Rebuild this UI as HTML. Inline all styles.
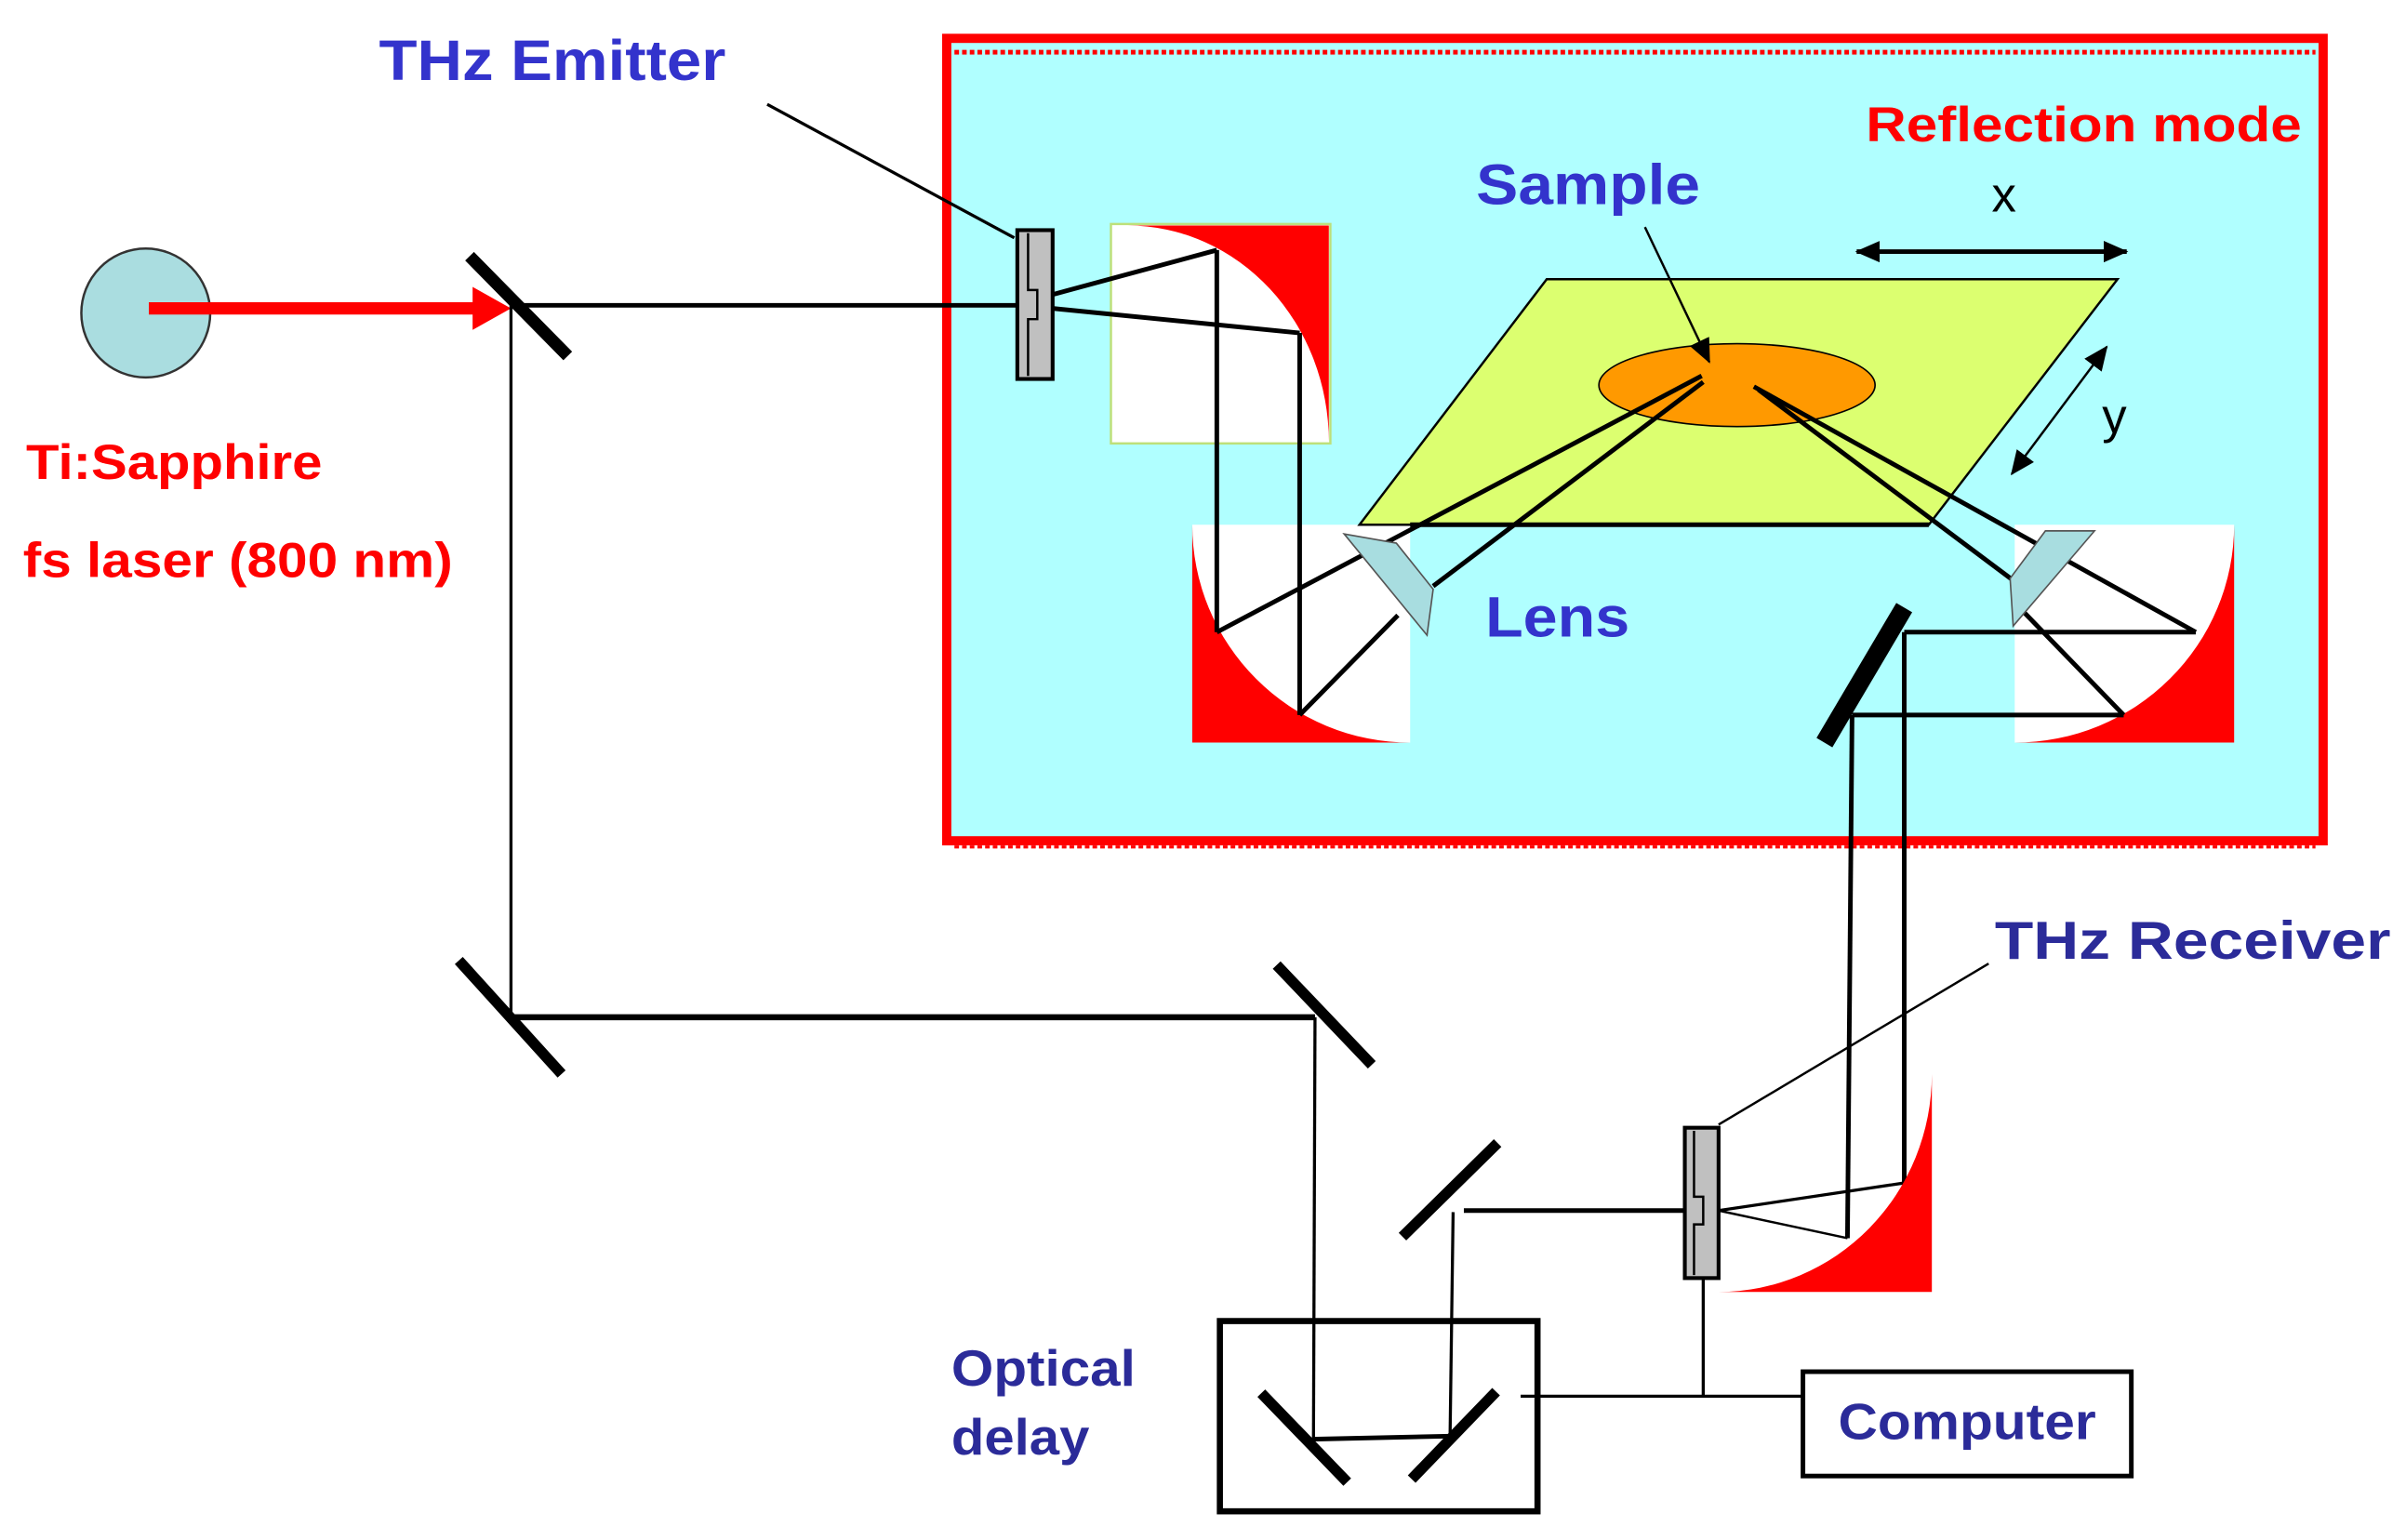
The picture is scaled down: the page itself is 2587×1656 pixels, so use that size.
<!DOCTYPE html>
<html><head><meta charset="utf-8"><style>
html,body{margin:0;padding:0;background:#fff;}
svg{display:block;}
text{font-family:"Liberation Sans",sans-serif;font-weight:bold;}
</style></head><body>
<svg width="2587" height="1656" viewBox="0 0 1568 1003.7" preserveAspectRatio="none" xmlns="http://www.w3.org/2000/svg">
<defs>
<marker id="ah2" markerWidth="16" markerHeight="14" refX="15" refY="7" orient="auto-start-reverse" markerUnits="userSpaceOnUse"><path d="M0,0 L16,7 L0,14 Z" fill="#000"/></marker>
</defs>
<rect x="617" y="25" width="897" height="523" fill="#b0ffff" stroke="#ff0000" stroke-width="6"/>
<line x1="622" y1="34" x2="1509" y2="34" stroke="#ff0000" stroke-width="3" stroke-dasharray="3,2"/>
<line x1="622" y1="552" x2="1509" y2="552" stroke="#ff0000" stroke-width="2" stroke-dasharray="3,2"/>

<rect x="724" y="146" width="143" height="143" fill="#fff" stroke="#bde07a" stroke-width="1.5"/>
<path d="M735,147 L866,147 L866,288 A131,141 0 0 0 735,147 Z" fill="#ff0000"/>
<rect x="777" y="342" width="142" height="142" fill="#fff"/>
<path d="M777,342 A142,142 0 0 0 919,484 L777,484 Z" fill="#ff0000"/>
<rect x="1313" y="342" width="143" height="142" fill="#fff"/>
<path d="M1456,342 L1456,484 L1313,484 A143,142 0 0 0 1456,342 Z" fill="#ff0000"/>

<polygon points="1008,182 1380,182 1257,342 886,342" fill="#dcff70" stroke="#000" stroke-width="1.5"/>
<line x1="919" y1="342" x2="1257" y2="342" stroke="#000" stroke-width="3"/>
<ellipse cx="1132" cy="251" rx="90" ry="27" fill="#ff9900" stroke="#000" stroke-width="1"/>

<g stroke="#000" stroke-width="3" fill="none">
<line x1="686" y1="192" x2="793" y2="163"/>
<line x1="686" y1="201" x2="847" y2="217"/>
<line x1="793" y1="163" x2="793" y2="412"/>
<line x1="847" y1="217" x2="847" y2="466"/>
<line x1="793" y1="412" x2="1109" y2="245"/>
<line x1="847" y1="466" x2="911" y2="401"/>
<line x1="934" y1="382" x2="1110" y2="249"/>
<line x1="1143" y1="252" x2="1431" y2="412"/>
<line x1="1146" y1="254" x2="1313" y2="379"/>
<line x1="1318" y1="398" x2="1384" y2="466"/>
<line x1="1241" y1="412" x2="1431" y2="412"/>
<line x1="1207" y1="466" x2="1384" y2="466"/>
<line x1="1241" y1="412" x2="1241" y2="771"/>
<line x1="1207" y1="466" x2="1204" y2="807"/>
</g>
<polygon points="876,348 910,354 934,384 930,414" fill="#a8dde0" stroke="#555" stroke-width="1"/>
<polygon points="1333,346 1365,346 1312,408 1310,377" fill="#a8dde0" stroke="#555" stroke-width="1"/>
<line x1="1241" y1="396" x2="1189" y2="484" stroke="#000" stroke-width="12"/>

<line x1="1072" y1="148" x2="1114" y2="236" stroke="#000" stroke-width="1.5" marker-end="url(#ah2)"/>
<line x1="1210" y1="164" x2="1386" y2="164" stroke="#000" stroke-width="3" marker-start="url(#ah2)" marker-end="url(#ah2)"/>
<line x1="1373" y1="226" x2="1311" y2="309" stroke="#000" stroke-width="1.5" marker-start="url(#ah2)" marker-end="url(#ah2)"/>

<rect x="663" y="150" width="23" height="97" fill="#c0c0c0" stroke="#000" stroke-width="2.5"/>
<polyline points="670,152 670,189 676,189 676,208 670,208 670,245" fill="none" stroke="#000" stroke-width="1.5"/>
<line x1="500" y1="68" x2="661" y2="155" stroke="#000" stroke-width="2"/>

<ellipse cx="95" cy="204" rx="42" ry="42" fill="#aadde0" stroke="#333" stroke-width="1.5"/>
<line x1="97" y1="201" x2="312" y2="201" stroke="#ff0000" stroke-width="8"/>
<polygon points="308,187 333,201 308,215" fill="#ff0000"/>

<g stroke="#000" fill="none">
<line x1="333" y1="199" x2="663" y2="199" stroke-width="3"/>
<line x1="333" y1="199" x2="333" y2="662" stroke-width="2"/>
<line x1="306" y1="167" x2="370" y2="232" stroke-width="8"/>
<line x1="299" y1="626" x2="366" y2="700" stroke-width="7"/>
<line x1="333" y1="663" x2="857" y2="663" stroke-width="4"/>
<line x1="832" y1="629" x2="894" y2="694" stroke-width="7"/>
<line x1="857" y1="663" x2="856" y2="938" stroke-width="2"/>
<line x1="914" y1="806" x2="976" y2="745" stroke-width="7"/>
<line x1="954" y1="789" x2="1098" y2="789" stroke-width="3"/>
<line x1="947" y1="790" x2="945" y2="937" stroke-width="2"/>
<line x1="855" y1="938" x2="945" y2="936" stroke-width="3"/>
<line x1="822" y1="908" x2="878" y2="966" stroke-width="7"/>
<line x1="975" y1="907" x2="920" y2="964" stroke-width="7"/>
<rect x="795" y="861" width="207" height="124" stroke-width="4"/>
<line x1="1120" y1="789" x2="1241" y2="771" stroke-width="2"/>
<line x1="1120" y1="789" x2="1204" y2="807" stroke-width="1.5"/>
<line x1="1120" y1="733" x2="1296" y2="628" stroke-width="1.5"/>
<line x1="1110" y1="834" x2="1110" y2="910" stroke-width="2"/>
<line x1="991" y1="910" x2="1175" y2="910" stroke-width="2"/>
<rect x="1175" y="894" width="214" height="68" stroke-width="3"/>
</g>
<path d="M1259,700 L1259,842 L1120,842 A139,142 0 0 0 1259,700 Z" fill="#ff0000"/>
<rect x="1098" y="735" width="22" height="98" fill="#c0c0c0" stroke="#000" stroke-width="2.5"/>
<polyline points="1104,737 1104,780 1110,780 1110,798 1104,798 1104,831" fill="none" stroke="#000" stroke-width="1.5"/>

<text x="247" y="52" font-size="37" fill="#3333cc" textLength="226" lengthAdjust="spacingAndGlyphs">THz Emitter</text>
<text x="17" y="312" font-size="32" fill="#ff0000" textLength="193" lengthAdjust="spacingAndGlyphs">Ti:Sapphire</text>
<text x="15" y="376" font-size="32" fill="#ff0000" textLength="280" lengthAdjust="spacingAndGlyphs">fs laser (800 nm)</text>
<text x="1216" y="92" font-size="32" fill="#ff0000" textLength="284" lengthAdjust="spacingAndGlyphs">Reflection  mode</text>
<text x="962" y="133" font-size="37" fill="#3333cc" textLength="146" lengthAdjust="spacingAndGlyphs">Sample</text>
<text x="968" y="415" font-size="37" fill="#3333cc" textLength="94" lengthAdjust="spacingAndGlyphs">Lens</text>
<text x="1298" y="138" font-size="32" fill="#000" style="font-weight:normal">x</text>
<text x="1370" y="282" font-size="32" fill="#000" style="font-weight:normal">y</text>
<text x="1300" y="625" font-size="35" fill="#2b2b99" textLength="258" lengthAdjust="spacingAndGlyphs">THz Receiver</text>
<text x="620" y="903" font-size="33" fill="#2b2b99" textLength="120" lengthAdjust="spacingAndGlyphs">Optical</text>
<text x="620" y="948" font-size="33" fill="#2b2b99" textLength="90" lengthAdjust="spacingAndGlyphs">delay</text>
<text x="1198" y="938" font-size="33" fill="#2b2b99" textLength="168" lengthAdjust="spacingAndGlyphs">Computer</text>
</svg>
</body></html>
